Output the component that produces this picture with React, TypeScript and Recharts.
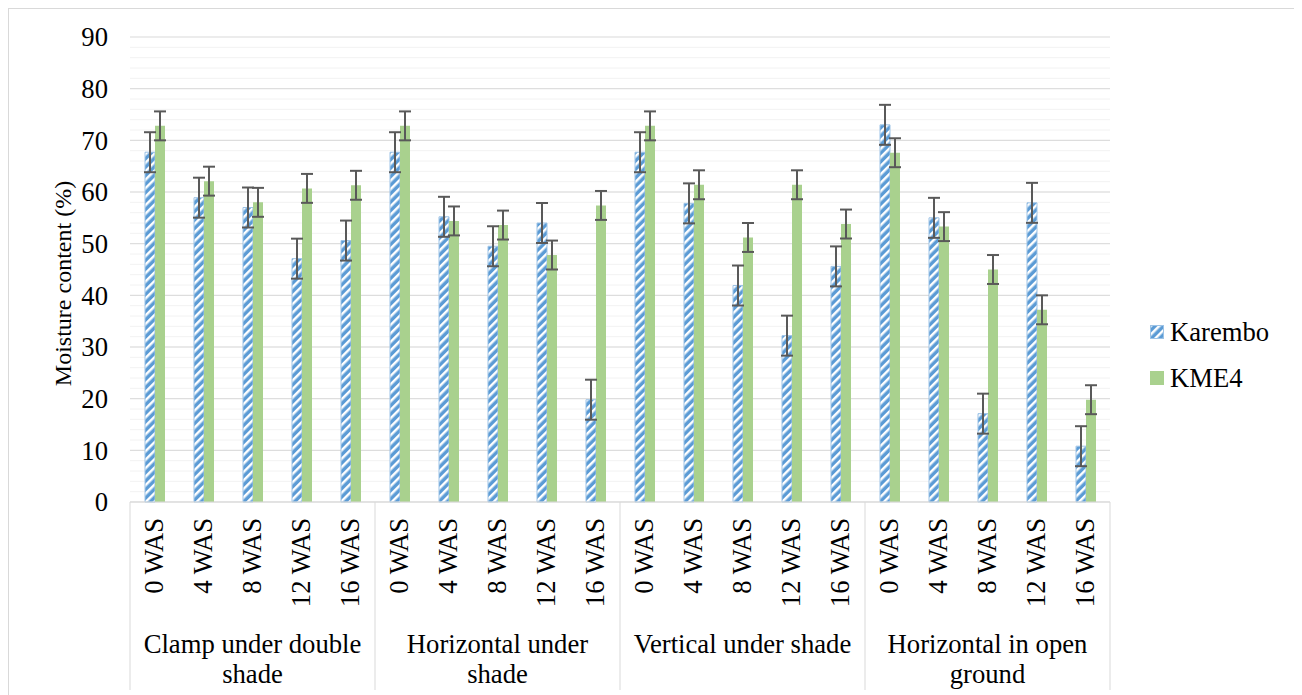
import { BarChart, Bar, XAxis, YAxis, CartesianGrid, ErrorBar, Legend, Label } from "recharts";

// Moisture content of two cassava varieties under four storage methods,
// sampled every 4 weeks after storage (WAS).
const storageMethods = [
  "Clamp under double shade",
  "Horizontal under shade",
  "Vertical under shade",
  "Horizontal in open ground",
];
const methodLabelLines = [
  ["Clamp under double", "shade"],
  ["Horizontal under", "shade"],
  ["Vertical under shade"],
  ["Horizontal in open", "ground"],
];
const weeks = ["0 WAS", "4 WAS", "8 WAS", "12 WAS", "16 WAS"];

const karembo = [
  67.7, 58.9, 57.0, 47.1, 50.6,
  67.7, 55.2, 49.5, 54.0, 19.8,
  67.7, 57.8, 41.9, 32.2, 45.6,
  73.0, 55.0, 17.1, 57.9, 10.8,
];
const karemboSe = [
  3.87, 3.87, 3.87, 3.87, 3.87,
  3.87, 3.87, 3.87, 3.87, 3.87,
  3.87, 3.87, 3.87, 3.87, 3.87,
  3.87, 3.87, 3.87, 3.87, 3.87,
];
const kme4 = [
  72.8, 62.1, 58.0, 60.7, 61.3,
  72.8, 54.4, 53.6, 47.8, 57.4,
  72.8, 61.4, 51.2, 61.4, 53.8,
  67.6, 53.3, 45.0, 37.2, 19.8,
];
const kme4Se = [
  2.8, 2.8, 2.8, 2.8, 2.8,
  2.8, 2.8, 2.8, 2.8, 2.8,
  2.8, 2.8, 2.8, 2.8, 2.8,
  2.8, 2.8, 2.8, 2.8, 2.8,
];
const yTicks = [0, 10, 20, 30, 40, 50, 60, 70, 80, 90];

const data = storageMethods.flatMap((method, gi) =>
  weeks.map((week, wi) => {
    const i = gi * weeks.length + wi;
    return {
      method,
      week,
      karembo: karembo[i],
      karemboSe: karemboSe[i],
      kme4: kme4[i],
      kme4Se: kme4Se[i],
    };
  })
);

const FONT = '"Liberation Serif", serif';
const FONT_SIZE = 26.67;
const BLUE = "#5b9bd5";
const GREEN = "#a9d18e";

const CHART_W = 1292;
const CHART_H = 686;
const MARGIN = { top: 28, right: 191, bottom: 3, left: 61 };
const Y_AXIS_W = 60;
const WEEK_AXIS_H = 110;
const METHOD_AXIS_H = 80;
const PLOT_W = CHART_W - MARGIN.left - MARGIN.right - Y_AXIS_W;

// minor gridlines every 2 %
const minorGrid: number[] = [];
for (let v = 2; v < 90; v += 2) minorGrid.push(v);

const WeekTick = ({ x, y, payload }: any) => (
  <text
    x={x}
    y={y}
    dy="0.33em"
    transform={`rotate(-90, ${x}, ${y})`}
    textAnchor="end"
    fontFamily={FONT}
    fontSize={FONT_SIZE}
    fill="#000"
  >
    {payload.value}
  </text>
);

const MethodTick = (props: any) => {
  const { x, y, payload } = props;
  const index = props.index ?? payload.index ?? 0;
  const band = PLOT_W / data.length;
  const pos = index % weeks.length;
  const gi = Math.floor(index / weeks.length);
  const top = y - WEEK_AXIS_H;
  const bottom = y + METHOD_AXIS_H - 2;
  return (
    <g>
      {pos === 0 && (
        <line x1={x - band / 2} x2={x - band / 2} y1={top} y2={bottom} stroke="#d9d9d9" />
      )}
      {index === data.length - 1 && (
        <line x1={x + band / 2} x2={x + band / 2} y1={top} y2={bottom} stroke="#d9d9d9" />
      )}
      {pos === 2 && (
        <text textAnchor="middle" fontFamily={FONT} fontSize={FONT_SIZE} fill="#000">
          {methodLabelLines[gi].map((line, k) => (
            <tspan key={k} x={x} y={y + 41 + k * 30}>
              {line}
            </tspan>
          ))}
        </text>
      )}
    </g>
  );
};

const LegendKey = () => (
  <div style={{ fontFamily: FONT, fontSize: FONT_SIZE, color: "#000" }}>
    <div style={{ display: "flex", alignItems: "center", height: 46 }}>
      <svg width={14} height={14}>
        <defs>
          <pattern
            id="karemboHatchKey"
            width={6}
            height={6}
            patternUnits="userSpaceOnUse"
            patternTransform="rotate(45)"
          >
            <rect width={6} height={6} fill={BLUE} />
            <rect width={2.5} height={6} fill="#fff" />
          </pattern>
        </defs>
        <rect x={0.5} y={0.5} width={13} height={13} fill="url(#karemboHatchKey)" stroke="#9dc3e6" />
      </svg>
      <span style={{ marginLeft: 6 }}>Karembo</span>
    </div>
    <div style={{ display: "flex", alignItems: "center", height: 46 }}>
      <svg width={14} height={14}>
        <rect width={14} height={14} fill={GREEN} />
      </svg>
      <span style={{ marginLeft: 6 }}>KME4</span>
    </div>
  </div>
);

const YTitle = ({ viewBox }: any) => {
  const cx = viewBox.x - 7;
  const cy = viewBox.y + viewBox.height / 2 + 14;
  return (
    <text
      x={cx}
      y={cy}
      dy="0.35em"
      transform={`rotate(-90, ${cx}, ${cy})`}
      textAnchor="middle"
      fontFamily={FONT}
      fontSize={24}
      fill="#000"
    >
      Moisture content (%)
    </text>
  );
};

export default function App() {
  return (
    <div style={{ width: CHART_W, height: 690, border: "1px solid #d9d9d9", background: "#fff", fontFamily: FONT }}>
      <BarChart
        width={CHART_W}
        height={CHART_H}
        data={data}
        margin={MARGIN}
        barSize={10}
        barGap={0}
      >
        <defs>
          <pattern
            id="karemboHatch"
            width={6}
            height={6}
            patternUnits="userSpaceOnUse"
            patternTransform="rotate(45)"
          >
            <rect width={6} height={6} fill={BLUE} />
            <rect width={2.5} height={6} fill="#fff" />
          </pattern>
        </defs>
        <CartesianGrid vertical={false} stroke="#f2f2f2" horizontalValues={minorGrid} />
        <CartesianGrid vertical={false} stroke="#d9d9d9" />
        <XAxis
          dataKey="week"
          interval={0}
          height={WEEK_AXIS_H}
          tickSize={0}
          tickMargin={16}
          tickLine={false}
          axisLine={{ stroke: "#d9d9d9" }}
          tick={<WeekTick />}
        />
        <XAxis
          xAxisId="method"
          dataKey="method"
          interval={0}
          height={METHOD_AXIS_H}
          tickSize={0}
          tickMargin={0}
          tickLine={false}
          axisLine={false}
          tick={<MethodTick />}
        />
        <YAxis
          width={Y_AXIS_W}
          domain={[0, 90]}
          ticks={yTicks}
          interval={0}
          tickSize={0}
          tickMargin={22}
          tickLine={false}
          axisLine={false}
          tick={{ fontSize: FONT_SIZE, fill: "#000", fontFamily: FONT }}
        >
          <Label content={<YTitle />} />
        </YAxis>
        <Legend
          layout="vertical"
          align="center"
          verticalAlign="middle"
          content={<LegendKey />}
          wrapperStyle={{ left: 1141, top: 300, width: "auto", height: "auto" }}
        />
        <Bar
          dataKey="karembo"
          name="Karembo"
          fill="url(#karemboHatch)"
          stroke="#9dc3e6"
          strokeWidth={1}
          isAnimationActive={false}
        >
          <ErrorBar dataKey="karemboSe" width={6} stroke="#595959" strokeWidth={2} direction="y" />
        </Bar>
        <Bar dataKey="kme4" name="KME4" fill={GREEN} isAnimationActive={false}>
          <ErrorBar dataKey="kme4Se" width={6} stroke="#595959" strokeWidth={2} direction="y" />
        </Bar>
      </BarChart>
    </div>
  );
}
